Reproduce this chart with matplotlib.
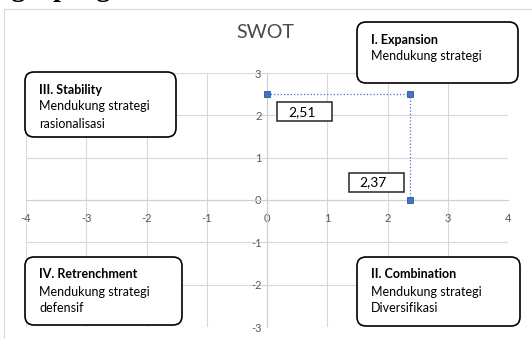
import matplotlib.pyplot as plt
from matplotlib.patches import FancyBboxPatch, Rectangle
from matplotlib.transforms import IdentityTransform

plt.rcParams['font.family'] = ['Lato', 'DejaVu Sans']
plt.rcParams['axes.unicode_minus'] = False

# posisi strategi: titik IFAS / EFAS
x_vals = [0, 2.37, 2.37]
y_vals = [2.51, 2.51, 0]
x_ticks = [-4, -3, -2, -1, 0, 1, 2, 3, 4]
y_ticks = [-3, -2, -1, 0, 1, 2, 3]

quadrant_titles = ["I. Expansion", "II. Combination", "III. Stability", "IV. Retrenchment"]
quadrant_lines = [
    ["Mendukung strategi"],
    ["Mendukung strategi", "Diversifikasi"],
    ["Mendukung strategi", "rasionalisasi"],
    ["Mendukung strategi", "defensif"],
]
# kotak kuadran (left, top, right, bottom) dalam piksel gambar
quadrant_boxes = [
    (357, 22, 518, 83),
    (357, 257, 520, 326),
    (25, 72, 176, 137),
    (25, 257, 182, 325),
]

W, H = 532, 339
fig = plt.figure(figsize=(W / 100, H / 100), dpi=100)
inch = fig.dpi_scale_trans


def to_in(x, y):
    return x / 100, (H - y) / 100


# sisa judul dokumen di atas grafik
fig.text(-3.5 / W, 1 + 3.5 / H, "ng a pengaruh", family="Liberation Serif",
         weight="bold", fontsize=20, va="baseline", ha="left", color="black")

# bingkai area grafik
fig.add_artist(Rectangle(to_in(4, 345), 6, (345 - 9) / 100, transform=inch,
                         fill=False, ec="#d9d9d9", lw=0.8, zorder=0))

ax = fig.add_axes([26 / W, 1 - 327 / H, (508 - 26) / W, (327 - 73) / H])
ax.set_xlim(-4, 4)
ax.set_ylim(-3, 3)
ax.set_xticks(x_ticks)
ax.set_yticks(y_ticks)
ax.grid(True, color="#d9d9d9", lw=0.8)
ax.set_axisbelow(True)
for side in ["top", "right"]:
    ax.spines[side].set_visible(False)
for side in ["left", "bottom"]:
    ax.spines[side].set_position("zero")
    ax.spines[side].set_color("#d0d0d0")
    ax.spines[side].set_linewidth(0.8)
ax.tick_params(length=0, labelsize=8, labelcolor="#595959")
ax.tick_params(axis="x", pad=9)
ax.tick_params(axis="y", pad=4)
ax.patch.set_alpha(0)

ax.plot(x_vals, y_vals, ls=":", lw=0.9, color="#4472C4", marker="s", ms=5,
        mfc="#4472C4", mec="#2F5597", mew=0.6, clip_on=False, zorder=4)

fig.text(265 / W, 1 - 33 / H, "SWOT", fontsize=14, color="#4a4a4a",
         ha="center", va="center")

# label nilai di samping titik
label_points = [(0, "{:.2f}".format(y_vals[0]).replace(".", ","), (10, -27.5), (21, -18)),
                (2, "{:.2f}".format(x_vals[2]).replace(".", ","), (-61, 8), (-50, 17.5))]
for idx, txt, box_off, txt_off in label_points:
    px, py = ax.transData.transform((x_vals[idx], y_vals[idx]))
    fig.add_artist(Rectangle((px + box_off[0], py + box_off[1]), 55, 19,
                             transform=IdentityTransform(), fc="white",
                             ec="#262626", lw=1.1, zorder=5))
    fig.text((px + txt_off[0]) / W, (py + txt_off[1]) / H, txt, fontsize=10,
             ha="left", va="center", color="black", zorder=6)

# kotak keterangan kuadran
for title, lines, (l, t, r, b) in zip(quadrant_titles, quadrant_lines, quadrant_boxes):
    x0, y0 = to_in(l, b)
    fig.add_artist(FancyBboxPatch((x0, y0), (r - l) / 100, (b - t) / 100,
                                  boxstyle="round,pad=0,rounding_size=0.09",
                                  transform=inch, fc="white", ec="black",
                                  lw=1.2, zorder=5))
    tx = l + 14
    ty = t + 17.5
    fig.text(*to_in(tx, ty), title, transform=inch, fontsize=9, weight="bold",
             ha="left", va="center", zorder=6)
    for i, line in enumerate(lines):
        fig.text(*to_in(tx, ty + 17 * (i + 1)), line, transform=inch, fontsize=9,
                 ha="left", va="center", zorder=6)

fig.savefig("out.png", dpi=100)
